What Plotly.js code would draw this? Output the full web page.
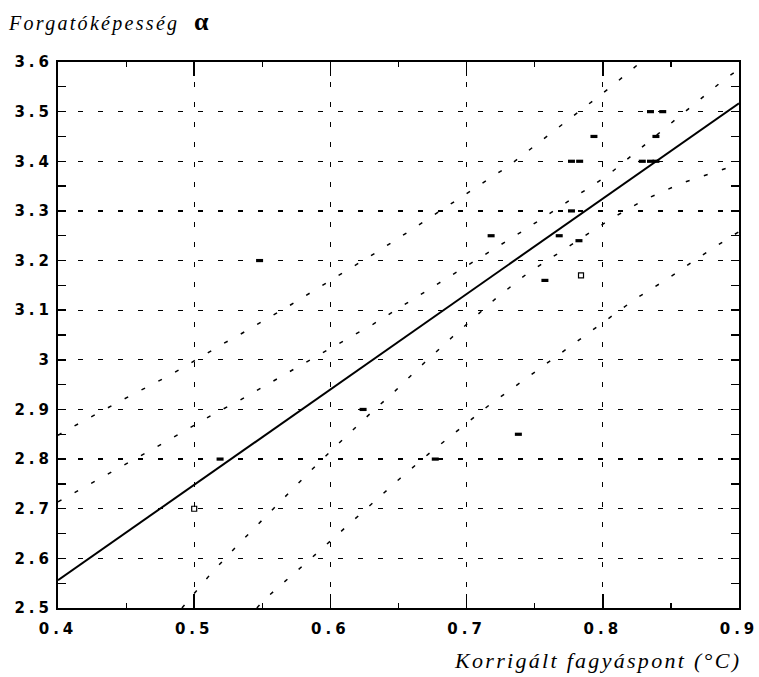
<!DOCTYPE html>
<html>
<head>
<meta charset="utf-8">
<script src="https://cdn.plot.ly/plotly-3.0.1.min.js"></script>
<style>
html,body{margin:0;padding:0;background:#fff;}
#chart{width:759px;height:677px;}
.xtick text, .ytick text { letter-spacing: 4px; }
.annotation-text { letter-spacing: 2.3px; }
</style>
</head>
<body>
<div id="chart"></div>
<script>
// Observed data points (filled)
const ptsX = [0.519, 0.548, 0.624, 0.677, 0.718, 0.738, 0.7575, 0.768, 0.777, 0.777, 0.783, 0.7825, 0.7935, 0.829, 0.835, 0.839, 0.839, 0.835, 0.844];
const ptsY = [2.80, 3.20, 2.90, 2.80, 3.25, 2.85, 3.16, 3.25, 3.30, 3.40, 3.40, 3.24, 3.45, 3.40, 3.40, 3.40, 3.45, 3.50, 3.50];
// Hollow points
const openX = [0.500, 0.784];
const openY = [2.70, 3.17];
// Regression line
const fitX = [0.4, 0.9];
const fitY = [2.556, 3.517];
// Upper outer dashed curve
const upOutX = [0.400, 0.4076, 0.445, 0.4835, 0.521, 0.5336, 0.5716, 0.6095, 0.634, 0.6584, 0.7306, 0.806, 0.828];
const upOutY = [2.848, 2.860, 2.916, 2.971, 3.032, 3.051, 3.112, 3.176, 3.217, 3.260, 3.390, 3.550, 3.600];
// Upper inner dashed curve
const upInX = [0.400, 0.4418, 0.4798, 0.517, 0.5307, 0.5801, 0.6315, 0.680, 0.7294, 0.7416, 0.8033, 0.8488, 0.8897, 0.900];
const upInY = [2.714, 2.778, 2.836, 2.895, 2.914, 2.992, 3.072, 3.155, 3.238, 3.260, 3.371, 3.473, 3.566, 3.585];
// Lower inner dashed curve
const loInX = [0.491, 0.5128, 0.5331, 0.5532, 0.574, 0.5846, 0.6051, 0.6262, 0.6474, 0.6682, 0.6891, 0.7216, 0.7446, 0.8065, 0.8317, 0.859, 0.8865, 0.900];
const loInY = [2.500, 2.571, 2.630, 2.687, 2.746, 2.774, 2.829, 2.884, 2.937, 2.992, 3.045, 3.124, 3.174, 3.285, 3.324, 3.357, 3.382, 3.395];
// Lower outer dashed curve
const loOutX = [0.546, 0.5515, 0.585, 0.6511, 0.6719, 0.6939, 0.7167, 0.7404, 0.8236, 0.848, 0.8726, 0.8934, 0.900];
const loOutY = [2.500, 2.517, 2.598, 2.761, 2.810, 2.859, 2.909, 2.956, 3.122, 3.164, 3.210, 3.247, 3.258];
// Tick labels
const xTicks = [0.4, 0.5, 0.6, 0.7, 0.8, 0.9];
const xTickText = ['0.4', '0.5', '0.6', '0.7', '0.8', '0.9'];
const yTicks = [2.5, 2.6, 2.7, 2.8, 2.9, 3.0, 3.1, 3.2, 3.3, 3.4, 3.5, 3.6];
const yTickText = ['2.5', '2.6', '2.7', '2.8', '2.9', '3', '3.1', '3.2', '3.3', '3.4', '3.5', '3.6'];

const dashCurve = {color: '#000', width: 1.5, dash: '4px,15px'};
const traces = [
  {x: upOutX, y: upOutY, mode: 'lines', line: dashCurve, hoverinfo: 'skip'},
  {x: upInX, y: upInY, mode: 'lines', line: dashCurve, hoverinfo: 'skip'},
  {x: loInX, y: loInY, mode: 'lines', line: dashCurve, hoverinfo: 'skip'},
  {x: loOutX, y: loOutY, mode: 'lines', line: dashCurve, hoverinfo: 'skip'},
  {x: fitX, y: fitY, mode: 'lines', line: {color: '#000', width: 2}},
  {x: ptsX, y: ptsY, mode: 'markers', marker: {symbol: 'line-ew', size: 5, color: '#000', line: {width: 3.2, color: '#000'}}},
  {x: openX, y: openY, mode: 'markers', marker: {symbol: 'square-open', size: 5, color: '#000', line: {width: 1.2}}}
];

const tickFont = {family: 'DejaVu Sans', size: 15, color: '#000', weight: 'bold'};
const layout = {
  width: 759, height: 677,
  margin: {l: 58, r: 20, t: 62, b: 69},
  paper_bgcolor: '#fff', plot_bgcolor: '#fff',
  showlegend: false,
  xaxis: {
    range: [0.4, 0.9], tickvals: xTicks, ticktext: xTickText,
    showline: true, linecolor: '#000', linewidth: 2, mirror: 'ticks',
    ticks: 'inside', ticklen: 14, tickwidth: 1.5, tickcolor: '#000',
    showgrid: true, gridcolor: '#000', gridwidth: 1.3, griddash: '5px,15px',
    zeroline: false, tickfont: tickFont, ticklabelstandoff: 6,
    minor: {dtick: 0.05, tick0: 0.4, ticks: 'inside', ticklen: 5, tickcolor: '#000', tickwidth: 1.2, showgrid: false}
  },
  yaxis: {
    range: [2.5, 3.6], tickvals: yTicks, ticktext: yTickText,
    showline: true, linecolor: '#000', linewidth: 2, mirror: 'ticks',
    ticks: 'inside', ticklen: 8, tickwidth: 1.5, tickcolor: '#000',
    showgrid: true, gridcolor: '#000', gridwidth: 1.3, griddash: '5px,15px',
    zeroline: false, tickfont: tickFont, ticklabelstandoff: 0,
    minor: {dtick: 0.05, tick0: 2.5, ticks: 'inside', ticklen: 8, tickcolor: '#000', tickwidth: 1.2, showgrid: false}
  },
  annotations: [
    {xref: 'paper', yref: 'paper', x: 0, y: 1, xanchor: 'left', yanchor: 'bottom', xshift: -52, yshift: 24,
     showarrow: false, align: 'left',
     text: '<i>Forgatóképesség</i>  <b><span style="font-size:26px">α</span></b>',
     font: {family: 'Liberation Serif', size: 20, color: '#000'}},
    {xref: 'paper', yref: 'paper', x: 1, y: 0, xanchor: 'right', yanchor: 'top', xshift: 4, yshift: -38,
     showarrow: false,
     text: '<i>Korrigált fagyáspont (°C)</i>',
     font: {family: 'Liberation Serif', size: 22, color: '#000'}}
  ]
};

Plotly.newPlot('chart', traces, layout, {displayModeBar: false, staticPlot: true});
</script>
</body>
</html>
